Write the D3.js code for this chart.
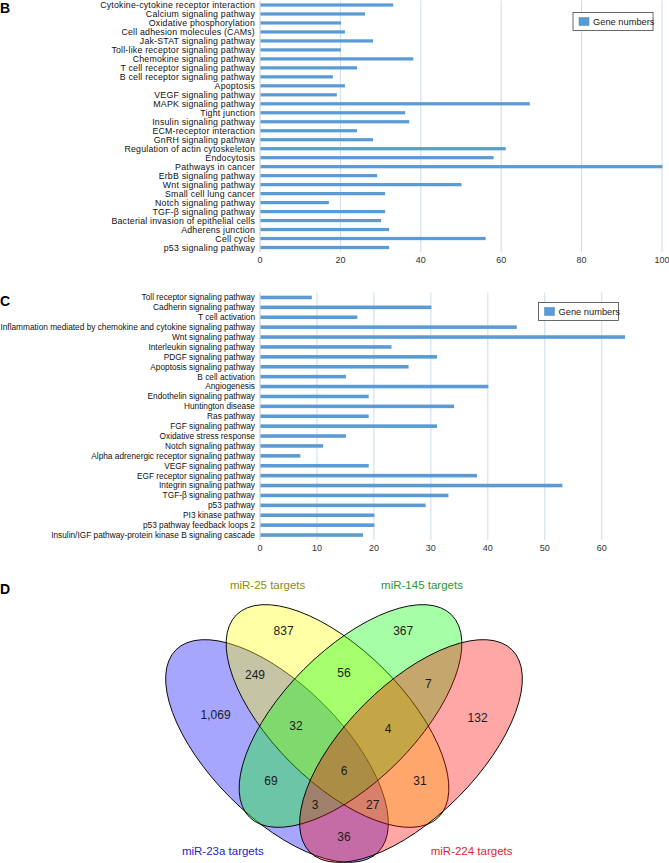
<!DOCTYPE html>
<html lang="en">
<head>
<meta charset="UTF-8">
<title>miRNA target pathways</title>
<script src="https://d3js.org/d3.v7.min.js"></script>
<style>
  body { margin: 0; background: #fff; }
  svg { font-family: Arial, "Liberation Sans", sans-serif; }
  .bar { fill: #5b9bd5; }
  .grid line { stroke: #c9dcef; stroke-width: 1; }
  .tick-label { font-size: 9px; fill: #333; }
  .cat-label { fill: #111; }
  .panel-letter { font-size: 14px; font-weight: bold; }
</style>
</head>
<body>
<svg width="669" height="863"></svg>
<script>
// panel B - KEGG pathways
const keggPathways = [
  "Cytokine-cytokine receptor interaction", "Calcium signaling pathway", "Oxidative phosphorylation",
  "Cell adhesion molecules (CAMs)", "Jak-STAT signaling pathway", "Toll-like receptor signaling pathway",
  "Chemokine signaling pathway", "T cell receptor signaling pathway", "B cell receptor signaling pathway",
  "Apoptosis", "VEGF signaling pathway", "MAPK signaling pathway", "Tight junction",
  "Insulin signaling pathway", "ECM-receptor interaction", "GnRH signaling pathway",
  "Regulation of actin cytoskeleton", "Endocytosis", "Pathways in cancer", "ErbB signaling pathway",
  "Wnt signaling pathway", "Small cell lung cancer", "Notch signaling pathway", "TGF-\u03b2 signaling pathway",
  "Bacterial invasion of epithelial cells", "Adherens junction", "Cell cycle", "p53 signaling pathway"
];
const keggCounts = [33, 26, 20, 21, 28, 20, 38, 24, 18, 21, 19, 67, 36, 37, 24, 28,
  61, 58, 100, 29, 50, 31, 17, 31, 30, 32, 56, 32];
const keggTicks = [0, 20, 40, 60, 80, 100];

// panel C - PANTHER pathways
const pantherPathways = [
  "Toll receptor signaling pathway", "Cadherin signaling pathway", "T cell activation",
  "Inflammation mediated by chemokine and cytokine signaling pathway", "Wnt signaling pathway",
  "Interleukin signaling pathway", "PDGF signaling pathway", "Apoptosis signaling pathway",
  "B cell activation", "Angiogenesis", "Endothelin signaling pathway", "Huntington disease",
  "Ras pathway", "FGF signaling pathway", "Oxidative stress response", "Notch signaling pathway",
  "Alpha adrenergic receptor signaling pathway", "VEGF signaling pathway", "EGF receptor signaling pathway",
  "Integrin signaling pathway", "TGF-\u03b2 signaling pathway", "p53 pathway", "PI3 kinase pathway",
  "p53 pathway feedback loops 2", "Insulin/IGF pathway-protein kinase B signaling cascade"
];
const pantherCounts = [9, 30, 17, 45, 64, 23, 31, 26, 15, 40, 19, 34, 19, 31, 15, 11, 7, 19,
  38, 53, 33, 29, 20, 20, 18];
const pantherTicks = [0, 10, 20, 30, 40, 50, 60];

const legendName = "Gene numbers";

// panel D - Venn diagram
const vennSets = ["miR-23a targets", "miR-25 targets", "miR-145 targets", "miR-224 targets"];
const vennColors = ["#0000ff", "#ffff00", "#00ff00", "#ff0000"];
const vennLabelColors = ["#2323c8", "#8c8c14", "#2d962d", "#dc2828"];
const vennRegions = ["1", "2", "3", "4", "12", "23", "34", "123", "234", "1234", "13", "24", "134", "124", "14"];
const vennCounts = [1069, 837, 367, 132, 249, 56, 7, 32, 4, 6, 69, 31, 3, 27, 36];

const svg = d3.select("svg");

function barPanel(cfg) {
  const y = d3.scaleBand().domain(cfg.cats).range([cfg.top, cfg.bottom]).paddingInner(0.64).paddingOuter(0.32);
  const x = d3.scaleLinear().domain([0, cfg.max]).range([260, cfg.right]);
  const g = svg.append("g");

  g.append("g").attr("class", "grid")
    .selectAll("line").data(cfg.ticks.slice(1)).join("line")
    .attr("x1", d => x(d)).attr("x2", d => x(d))
    .attr("y1", cfg.top).attr("y2", cfg.bottom);

  g.append("line").attr("x1", x(0)).attr("x2", x(0))
    .attr("y1", cfg.top).attr("y2", cfg.bottom)
    .attr("stroke", "#bcc8d6");

  g.selectAll(".bar").data(cfg.cats).join("rect")
    .attr("class", "bar")
    .attr("x", x(0) + 0.5)
    .attr("y", d => y(d))
    .attr("height", y.bandwidth())
    .attr("width", (d, i) => x(cfg.vals[i]) - x(0));

  g.selectAll(".cat-label").data(cfg.cats).join("text")
    .attr("class", "cat-label")
    .attr("font-size", cfg.labelSize)
    .attr("letter-spacing", cfg.spacing)
    .attr("x", x(0) - 5)
    .attr("y", d => y(d) + y.bandwidth() / 2)
    .attr("dy", "0.35em")
    .attr("text-anchor", "end")
    .text(d => d);

  g.selectAll(".tick-label").data(cfg.ticks).join("text")
    .attr("class", "tick-label")
    .attr("x", d => x(d))
    .attr("y", cfg.bottom + 8)
    .attr("dy", "0.35em")
    .attr("text-anchor", "middle")
    .text(d => d);

  // legend
  const lg = g.append("g").attr("transform", `translate(${cfg.legend[0]},${cfg.legend[1]})`);
  lg.append("rect").attr("width", 80).attr("height", 18)
    .attr("fill", "#fff").attr("stroke", "#444").attr("stroke-width", 0.8);
  lg.append("rect").attr("x", 6).attr("y", 5).attr("width", 10).attr("height", 8)
    .attr("fill", "#5b9bd5").attr("stroke", "#4a84bb").attr("stroke-width", 0.5);
  lg.append("text").attr("x", 20).attr("y", 9).attr("dy", "0.35em")
    .attr("font-size", "9.3px").attr("fill", "#222").text(legendName);

  svg.append("text").attr("class", "panel-letter")
    .attr("x", 0).attr("y", cfg.letterY).text(cfg.letter);
}

barPanel({ cats: keggPathways, vals: keggCounts, ticks: keggTicks, max: 100,
  labelSize: "8.8px", spacing: "0.2px",
  top: 0.5, bottom: 252, right: 662, legend: [573, 12.5], letter: "B", letterY: 13 });

barPanel({ cats: pantherPathways, vals: pantherCounts, ticks: pantherTicks, max: 64,
  labelSize: "8.3px", spacing: "0px",
  top: 292.5, bottom: 540, right: 624.5, legend: [538.5, 302.5], letter: "C", letterY: 306 });

// Venn: unit coordinates mapped to pixels
const vx = d3.scaleLinear().domain([0, 1]).range([144, 544]);
const vy = d3.scaleLinear().domain([0, 1]).range([900, 500]);
const ellipses = [
  { cx: 0.3325, cy: 0.3725, rot: 45 },
  { cx: 0.48375, cy: 0.46, rot: 45 },
  { cx: 0.51625, cy: 0.46, rot: -45 },
  { cx: 0.6675, cy: 0.3725, rot: -45 }
];
const semiA = 0.3575, semiB = 0.165;
const regionPos = {
  "1": [0.179, 0.463], "2": [0.349, 0.673], "3": [0.648, 0.674], "4": [0.834, 0.455],
  "12": [0.2775, 0.564], "23": [0.5, 0.569], "34": [0.711, 0.541], "123": [0.38, 0.436],
  "234": [0.61, 0.4275], "1234": [0.5, 0.322], "13": [0.3175, 0.298], "24": [0.69, 0.298],
  "134": [0.4275, 0.2375], "124": [0.572, 0.2375], "14": [0.5, 0.158]
};
const setLabelPos = [[0.197, 0.1225], [0.309, 0.7875], [0.695, 0.7875], [0.819, 0.1225]];

const vg = svg.append("g");
vg.selectAll("ellipse").data(ellipses).join("ellipse")
  .attr("transform", d => `translate(${vx(d.cx)},${vy(d.cy)}) rotate(${d.rot})`)
  .attr("rx", vx(semiA) - vx(0))
  .attr("ry", vx(semiB) - vx(0))
  .attr("fill", (d, i) => vennColors[i])
  .attr("fill-opacity", 0.35)
  .attr("stroke", "#000")
  .attr("stroke-width", 0.9);

vg.selectAll(".count").data(vennRegions).join("text")
  .attr("class", "count")
  .attr("x", d => vx(regionPos[d][0]))
  .attr("y", d => vy(regionPos[d][1]))
  .attr("dy", "0.35em")
  .attr("text-anchor", "middle")
  .attr("font-size", "12px")
  .attr("fill", "#1a1a1a")
  .text((d, i) => d3.format(",")(vennCounts[i]));

vg.selectAll(".set-label").data(vennSets).join("text")
  .attr("class", "set-label")
  .attr("x", (d, i) => vx(setLabelPos[i][0]))
  .attr("y", (d, i) => vy(setLabelPos[i][1]))
  .attr("dy", "0.35em")
  .attr("text-anchor", "middle")
  .attr("font-size", "11.5px")
  .attr("fill", (d, i) => vennLabelColors[i])
  .text(d => d);

svg.append("text").attr("class", "panel-letter").attr("x", 0).attr("y", 594).text("D");
</script>
</body>
</html>
